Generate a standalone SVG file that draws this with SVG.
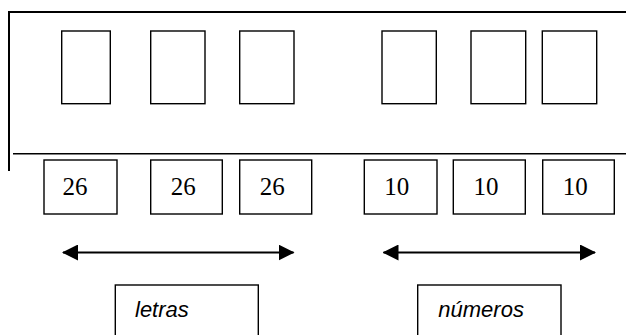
<svg xmlns="http://www.w3.org/2000/svg" width="626" height="335" viewBox="0 0 626 335">
  <style>
    .frame { fill: none; stroke: #000; stroke-width: 2; }
    .box { fill: #fff; stroke: #000; stroke-width: 1.4; }
    .num { font-family: "Liberation Serif", "Times New Roman", serif; font-size: 25px; fill: #000; text-anchor: middle; }
    .lbl { font-family: "Liberation Sans", Arial, sans-serif; font-style: italic; font-size: 22px; fill: #000; }
    .arrow { stroke: #000; stroke-width: 2; fill: none; }
  </style>
  <defs>
    <marker id="head" viewBox="0 0 16 16" refX="15" refY="8" markerWidth="16" markerHeight="16" markerUnits="userSpaceOnUse" orient="auto-start-reverse">
      <path d="M0,0 L16,8 L0,16 Z" fill="#000"/>
    </marker>
  </defs>

  <!-- outer frame -->
  <g id="frame">
    <path class="frame" d="M626,12 H9 V171"/>
    <line x1="13" y1="153.7" x2="626" y2="153.7" stroke="#000" stroke-width="1.6"/>
  </g>

  <!-- empty slots -->
  <g id="slots">
    <rect id="slot1" class="box" x="61.7" y="31" width="48.6" height="72.7"/>
    <rect id="slot2" class="box" x="150.7" y="31" width="54.3" height="72.7"/>
    <rect id="slot3" class="box" x="239.7" y="31" width="54.3" height="72.7"/>
    <rect id="slot4" class="box" x="382" y="31" width="54.3" height="72.7"/>
    <rect id="slot5" class="box" x="471" y="31" width="54.7" height="72.7"/>
    <rect id="slot6" class="box" x="542.3" y="31" width="54.4" height="72.7"/>
  </g>

  <!-- counts -->
  <g id="count1"><rect class="box" x="44" y="160" width="73" height="54"/><text class="num" x="75" y="194.5">26</text></g>
  <g id="count2"><rect class="box" x="150.7" y="160" width="71.6" height="54"/><text class="num" x="183.3" y="194.5">26</text></g>
  <g id="count3"><rect class="box" x="239.7" y="160" width="72" height="54"/><text class="num" x="272.2" y="194.5">26</text></g>
  <g id="count4"><rect class="box" x="364.3" y="160" width="72.7" height="54"/><text class="num" x="396.8" y="194.5">10</text></g>
  <g id="count5"><rect class="box" x="453.3" y="160" width="72" height="54"/><text class="num" x="486" y="194.5">10</text></g>
  <g id="count6"><rect class="box" x="542.7" y="160" width="71.6" height="54"/><text class="num" x="575.2" y="194.5">10</text></g>

  <!-- span arrows -->
  <g id="connectors">
    <line class="arrow" x1="63" y1="252.5" x2="293.5" y2="252.5" marker-start="url(#head)" marker-end="url(#head)"/>
    <line class="arrow" x1="383.5" y1="252.5" x2="595" y2="252.5" marker-start="url(#head)" marker-end="url(#head)"/>
  </g>

  <!-- group labels -->
  <g id="letras"><rect class="box" x="115.3" y="285" width="143" height="60"/><text class="lbl" x="135" y="316.7">letras</text></g>
  <g id="numeros"><rect class="box" x="417.7" y="285" width="143.3" height="60"/><text class="lbl" x="438.3" y="316.7">números</text></g>
</svg>
